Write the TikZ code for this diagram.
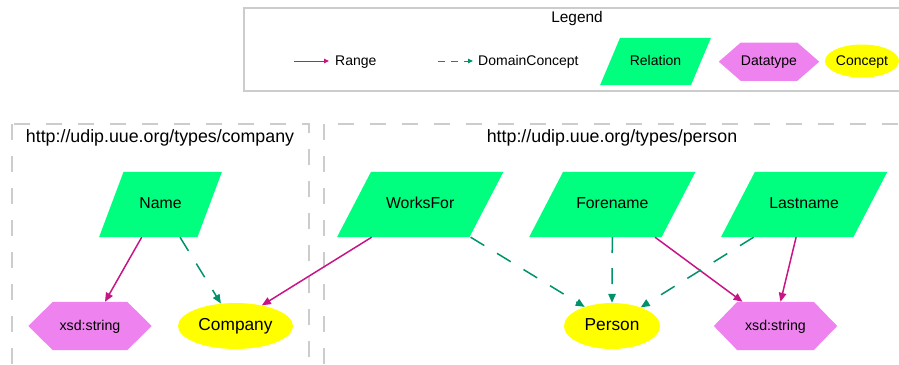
\documentclass[tikz,border=0pt]{standalone}
\usepackage{fontspec}
\setmainfont{Liberation Sans}
\usetikzlibrary{arrows.meta,shapes.geometric,backgrounds}
\definecolor{relc}{HTML}{00FF7F}
\definecolor{dtc}{HTML}{EE82EE}
\definecolor{conc}{HTML}{FFFF00}
\definecolor{rangec}{HTML}{C71585}
\definecolor{domc}{HTML}{00926A}
\definecolor{clc}{HTML}{CCCCCC}
\newcommand\relshape[2]{\fill[relc] ([xshift=#2]#1.north west) -- ([xshift=#2]#1.north east) -- ([xshift=-#2]#1.south east) -- ([xshift=-#2]#1.south west) -- cycle;}
\newcommand\dtshape[2]{\fill[dtc] ([xshift=-#2]#1.west) -- (#1.north west) -- (#1.north east) -- ([xshift=#2]#1.east) -- (#1.south east) -- (#1.south west) -- cycle;}
\begin{document}
\begin{tikzpicture}[x=1pt,y=-1pt,
  txt/.style={text height=0.8em,text depth=0pt},
  relnode/.style={rectangle,inner sep=0pt,minimum height=65pt,font=\fontsize{15.8}{18}\selectfont,txt},
  dtnode/.style={rectangle,inner sep=0pt,minimum height=48pt,font=\fontsize{14.2}{17}\selectfont,txt},
  connode/.style={ellipse,fill=conc,inner sep=0pt,minimum height=46pt,font=\fontsize{17.3}{20}\selectfont,txt},
  legtext/.style={inner sep=0pt,font=\fontsize{14}{16}\selectfont,txt},
  cltext/.style={inner sep=0pt,font=\fontsize{17.8}{20}\selectfont,txt},
  cluster/.style={draw=clc,line width=1.5pt,dash pattern=on 16pt off 16pt},
  rngedge/.style={draw=rangec,line width=1.5pt,-{Triangle[length=9pt,width=7.5pt]}},
  domedge/.style={draw=domc,line width=1.5pt,dash pattern=on 16pt off 15pt,-{Triangle[length=9pt,width=7.5pt]}},
  lrngedge/.style={draw=rangec,line width=1pt,-{Triangle[length=5pt,width=4.5pt]}},
  ldomedge/.style={draw=domc,line width=1pt,dash pattern=on 7pt off 6pt,-{Triangle[length=5pt,width=4.5pt]}}
]
\useasboundingbox (0,0) rectangle (899,364);
\clip (0,0) rectangle (899,364);
% legend
\draw[draw=clc,line width=1.2pt] (244,8) rectangle (910,91);
\node[inner sep=0pt,font=\fontsize{15.4}{18}\selectfont,txt] (legtitle) at (577,19) {Legend};
\coordinate (ra) at (294,61);
\coordinate (rb) at (329,61);
\draw[lrngedge] (ra) -- (rb);
\node[legtext,anchor=west] (rangelab) at (335,61) {Range};
\coordinate (da) at (438,61);
\coordinate (db) at (473,61);
\draw[ldomedge] (da) -- (db);
\node[legtext,anchor=west] (domlab) at (478,61) {DomainConcept};
\node[rectangle,inner sep=0pt,minimum width=90.5pt,minimum height=47pt,legtext] (legrel) at (655.5,61.5) {Relation};
\node[rectangle,inner sep=0pt,minimum width=48pt,minimum height=38pt,legtext] (legdt) at (769,61.7) {Datatype};
\node[ellipse,fill=conc,inner sep=0pt,minimum width=74pt,minimum height=33pt,legtext] (legcon) at (862,61) {Concept};
% clusters
\draw[cluster] (12,124) rectangle (309,380);
\draw[cluster] (324,124) rectangle (915,380);
\node[cltext] (cl1) at (160,138) {http://udip.uue.org/types/company};
\node[cltext] (cl2) at (612,138) {http://udip.uue.org/types/person};
% nodes
\node[relnode,minimum width=98pt] (Name) at (160.5,204.5) {Name};
\node[relnode,minimum width=132pt] (WorksFor) at (420.2,204.5) {WorksFor};
\node[relnode,minimum width=132pt] (Forename) at (612.3,204.5) {Forename};
\node[relnode,minimum width=132pt] (Lastname) at (804.1,204.5) {Lastname};
\node[dtnode,minimum width=74pt] (xsd1) at (90,326) {xsd:string};
\node[dtnode,minimum width=76pt] (xsd2) at (775.5,326) {xsd:string};
\node[connode,minimum width=115pt] (Company) at (235.5,326) {Company};
\node[connode,minimum width=96pt] (Person) at (612,326) {Person};
\begin{pgfonlayer}{background}
\relshape{legrel}{10pt}
\dtshape{legdt}{22pt}
\relshape{Name}{12.25pt}
\relshape{WorksFor}{17pt}
\relshape{Forename}{17pt}
\relshape{Lastname}{17pt}
\dtshape{xsd1}{24.5pt}
\dtshape{xsd2}{23.5pt}
\end{pgfonlayer}
% edges
\draw[rngedge] ([xshift=-18.8pt]Name.south) -- ([xshift=15pt]xsd1.north);
\draw[domedge] ([xshift=19.5pt]Name.south) -- (Company.123);
\draw[rngedge] ([xshift=-48.5pt]WorksFor.south) -- (Company.38);
\draw[domedge] ([xshift=50.4pt]WorksFor.south) -- (Person.145);
\draw[domedge] (Forename.south) -- (Person.north);
\draw[rngedge] ([xshift=42.7pt]Forename.south) -- ([xshift=-33pt]xsd2.north);
\draw[domedge] ([xshift=-50.5pt]Lastname.south) -- (Person.33);
\draw[rngedge] ([xshift=-8pt]Lastname.south) -- ([xshift=5pt]xsd2.north);
\end{tikzpicture}
\end{document}
